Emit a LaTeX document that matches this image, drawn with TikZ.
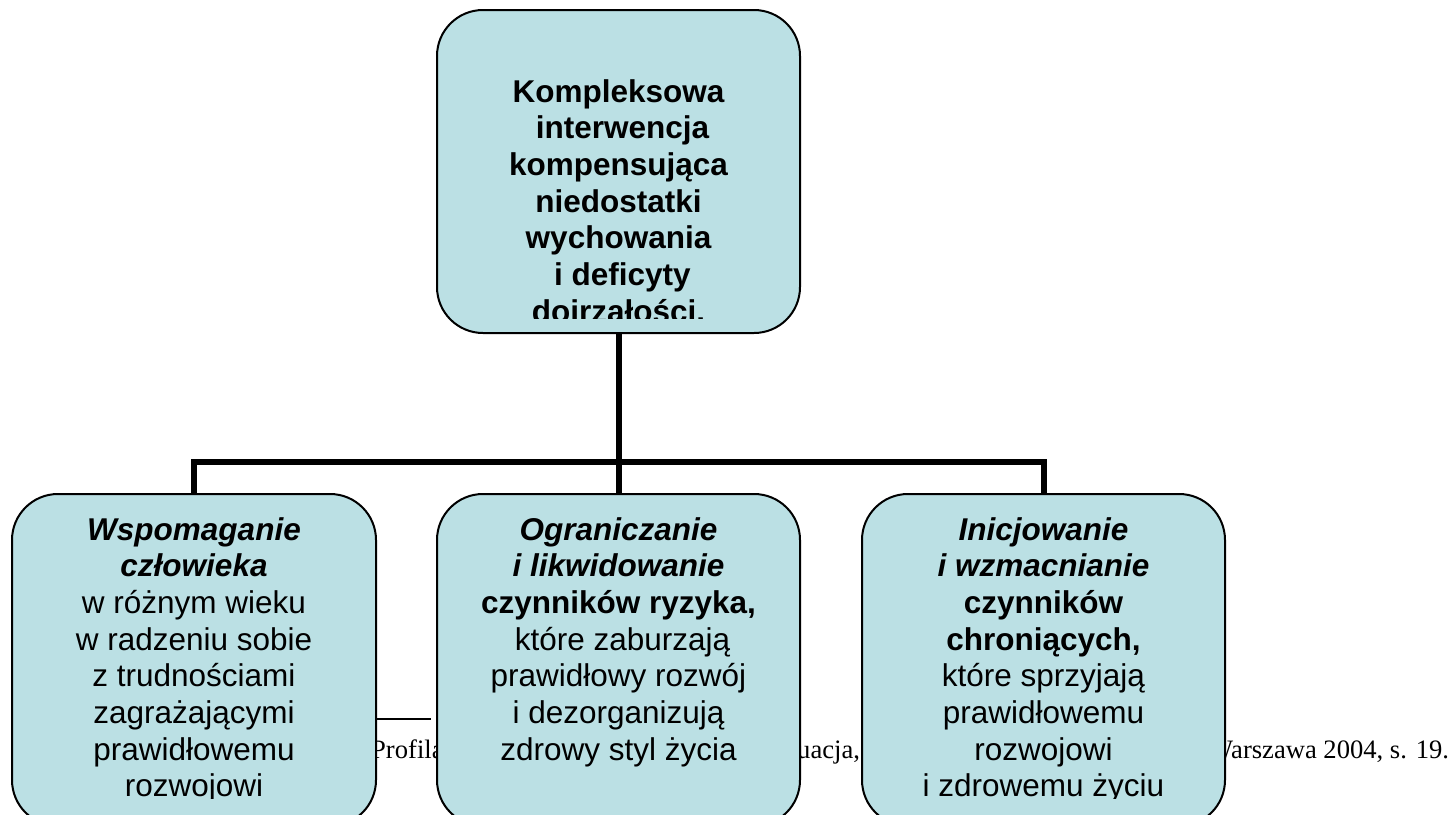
\documentclass[tikz,border=0pt]{standalone}
\usepackage{fontspec}
\setmainfont{Liberation Serif}
\newfontfamily\arial{Liberation Sans}
\definecolor{boxfill}{RGB}{187,224,228}
\tikzset{
  box/.style={draw=black, line width=2pt, fill=boxfill, rounded corners=46pt, inner sep=0pt},
  boxtext/.style={font=\arial\fontsize{31.5}{36.7}\selectfont, align=center, inner sep=0pt, anchor=base},
  conn/.style={draw=black, line width=6pt, line join=miter},
  foot/.style={font=\fontsize{26.6}{30}\selectfont, inner sep=0pt, anchor=base west},
  footrule/.style={draw=black, line width=1.6pt}
}
\begin{document}
\begin{tikzpicture}[x=1pt,y=-1pt]
\useasboundingbox (0,0) rectangle (1456,814);
% footnote, partly covered by the boxes
\coordinate (fl) at (300,719);
\coordinate (fr) at (431,719);
\draw[footrule] (fl) -- (fr);
\node[foot] (f1) at (371,758) {Profila};
\node[foot] (f2) at (797,758) {uacja,};
\node[foot] (f3) at (1208,758) {Warszawa 2004, s. 19.};
% boxes
\node[box, minimum width=363pt, minimum height=323pt] (top) at (618.5,171.5) {};
\node[box, minimum width=364pt, minimum height=332pt] (left) at (194,660) {};
\node[box, minimum width=363pt, minimum height=332pt] (mid) at (618.5,660) {};
\node[box, minimum width=363pt, minimum height=332pt] (right) at (1043.5,660) {};
% connectors
\draw[conn] (top.south) -- ++(0,128) coordinate (j);
\draw[conn] (left.north) |- (j) -| (right.north);
\draw[conn] (j) -- (mid.north);
% texts (anchor base = baseline of the last line)
\begin{scope}
\clip (437,10) rectangle (800,318);
\node[boxtext, font=\arial\bfseries\fontsize{31.5}{36.7}\selectfont] (ttop) at (618.5,322.2)
  {Kompleksowa\\\hspace*{8pt}interwencja\\kompensująca\\niedostatki\\wychowania\\\hspace*{8pt}i deficyty\\dojrzałości.};
\end{scope}
\begin{scope}
\clip (12,494) rectangle (1225,798);
\node[boxtext] (tleft) at (194,796.9)
  {\textbf{\textit{Wspomaganie}}\\\textbf{\textit{człowieka}}\\w różnym wieku\\w radzeniu sobie\\z trudnościami\\zagrażającymi\\prawidłowemu\\rozwojowi};
\node[boxtext] (tmid) at (618.5,760.2)
  {\textbf{\textit{Ograniczanie}}\\\textbf{\textit{i likwidowanie}}\\\textbf{czynników ryzyka,}\\\hspace*{8pt}które zaburzają\\prawidłowy rozwój\\i dezorganizują\\zdrowy styl życia};
\node[boxtext] (tright) at (1043.5,796.9)
  {\textbf{\textit{Inicjowanie}}\\\textbf{\textit{i wzmacnianie}}\\\textbf{czynników}\\\textbf{chroniących,}\\które sprzyjają\\prawidłowemu\\rozwojowi\\i zdrowemu życiu};
\end{scope}
\end{tikzpicture}
\end{document}
